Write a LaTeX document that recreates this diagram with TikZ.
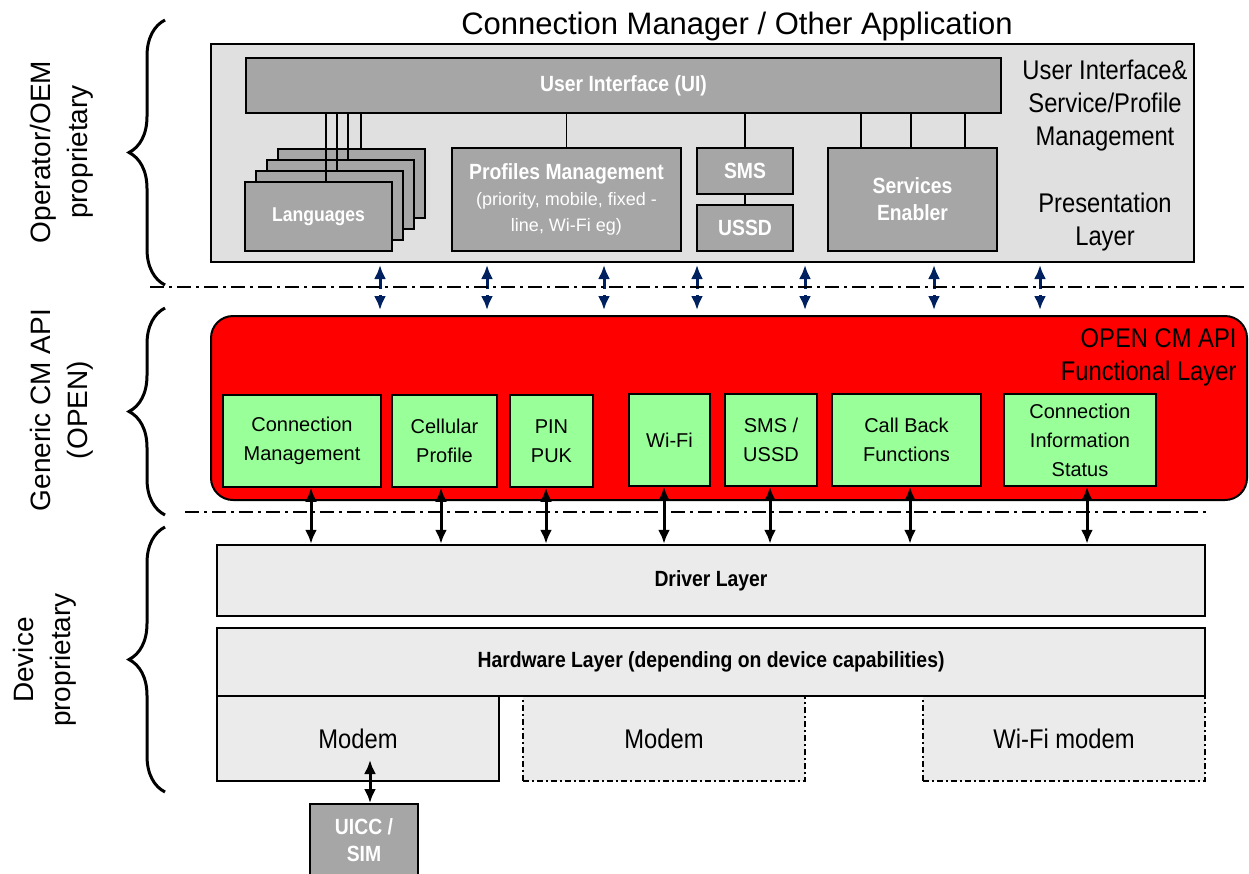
\documentclass[tikz,border=0pt]{standalone}
\usepackage{fontspec}
\setmainfont{Liberation Sans}
\newfontfamily\narrowfont[FakeStretch=0.88]{Liberation Sans}
\usetikzlibrary{arrows.meta}
\usetikzlibrary{positioning}
\usetikzlibrary{decorations.pathreplacing}
\definecolor{panelgray}{RGB}{224,224,224}
\definecolor{boxgray}{RGB}{166,166,166}
\definecolor{layergray}{RGB}{235,235,235}
\definecolor{apired}{RGB}{255,0,0}
\definecolor{funcgreen}{RGB}{153,255,153}
\definecolor{linknavy}{RGB}{0,32,96}
\newcommand\titlefont{\fontsize{31}{36}\selectfont}
\newcommand\boxfont{\narrowfont\bfseries\fontsize{22}{27}\selectfont}
\newcommand\langfont{\narrowfont\bfseries\fontsize{20}{24}\selectfont}
\newcommand\smallboxfont{\fontsize{18}{26}\selectfont}
\newcommand\notefont{\narrowfont\fontsize{27}{33}\selectfont}
\newcommand\funcfont{\fontsize{20}{29}\selectfont}
\newcommand\sidefont{\fontsize{28}{37}\selectfont}
\tikzset{
  panel/.style = {draw, line width=2pt, fill=panelgray, inner sep=0pt},
  greybox/.style = {draw, line width=1.3pt, fill=boxgray, text=white,
                    font=\boxfont, align=center, inner sep=0pt},
  funcbox/.style = {draw, line width=1.5pt, fill=funcgreen, font=\funcfont,
                    align=center, inner sep=0pt, minimum height=92},
  layerbox/.style = {draw, fill=layergray, inner sep=0pt, minimum width=988},
  modembox/.style = {fill=layergray, inner sep=0pt, font=\notefont,
                     minimum width=282, minimum height=85},
  wire/.style = {line width=1.5pt},
  bluelink/.style = {linknavy, line width=3pt,
                     {Latex[length=14pt,width=12pt]}-{Latex[length=14pt,width=12pt]}},
  blacklink/.style = {line width=3pt,
                      {Latex[length=14pt,width=12pt]}-{Latex[length=14pt,width=12pt]}},
  sepline/.style = {line width=2pt, dash pattern=on 14pt off 5pt on 3pt off 5pt},
  sidebrace/.style = {line width=3pt, decorate, decoration={brace, amplitude=36pt}},
}
\begin{document}
\begin{tikzpicture}[x=1pt,y=-1pt]
\useasboundingbox (0,0) rectangle (1249,873);

% application layer
\node[panel, minimum width=983, minimum height=218] (panel) at (702.5,153) {};
\node[font=\titlefont] (title) at (737,26) {Connection Manager / Other Application};
\node[greybox, minimum width=755, minimum height=55] (ui) at (623.5,85.5) {User Interface (UI)};
\foreach \i in {4,3,2}
  \node[greybox, minimum width=147, minimum height=69] (lang\i)
    at ({318.5+11*(\i-1)},{216.5-11*(\i-1)}) {};
\node[greybox, minimum width=147, minimum height=69, font=\langfont] (lang1) at (318.5,216.5) {\raisebox{-3pt}{Languages}};
\node[greybox, minimum width=229, minimum height=103, font=\smallboxfont] (prof) at (566.5,199.5)
  {{\boxfont Profiles Management}\\(priority, mobile, fixed -\\line, Wi-Fi eg)};
\node[greybox, minimum width=96, minimum height=46] (sms) at (745,171) {SMS};
\node[greybox, minimum width=96, minimum height=46] (ussd) at (745,228) {USSD};
\node[greybox, minimum width=169, minimum height=103] (serv) at (912.5,199.5) {Services\\Enabler};

\foreach \i/\x in {1/326,2/337,3/348,4/361} {
  \coordinate (tap) at (\x,0);
  \draw[wire] (ui.south -| tap) -- (lang\i.north -| tap);
}
\draw[wire] (ui.south -| prof.north) -- (prof.north);
\draw[wire] (ui.south -| sms.north) -- (sms.north);
\draw[wire] (sms.south) -- (sms.south |- ussd.north);
\foreach \x in {861,911,965} {
  \coordinate (tap) at (\x,0);
  \draw[wire] (ui.south -| tap) -- (serv.north -| tap);
}

\node[font=\notefont, align=center] (uinote) at (1105,106) {User Interface\&\\Service/Profile\\Management};
\node[font=\notefont, align=center] (presnote) at (1105,222) {Presentation\\Layer};

% open api layer
\node[draw, line width=2pt, fill=apired, rounded corners=22pt, inner sep=0pt,
      minimum width=1036, minimum height=184] (api) at (729,408) {};
\node[font=\notefont, align=right, anchor=east] (apinote) at (1240,357) {OPEN CM API\\Functional Layer};

\foreach \x in {380,487,604,697,805,934,1040} {
  \coordinate (tap) at (\x,0);
  \draw[bluelink, shorten <=2pt, shorten >=5pt] (panel.south -| tap) -- (api.north -| tap);
}
\fill[white] (300,289) rectangle (1100,295);
\draw[sepline] (150,287) -- (1245,287);

\node[funcbox, minimum width=158] (conn) at (302,441) {Connection\\Management};
\node[funcbox, minimum width=105] (cell) at (444.5,441) {Cellular\\Profile};
\node[funcbox, minimum width=83] (pin) at (551.5,441) {PIN\\PUK};
\node[funcbox, minimum width=81] (wifi) at (669.5,440) {Wi-Fi};
\node[funcbox, minimum width=92] (smsussd) at (771,440) {SMS /\\USSD};
\node[funcbox, minimum width=149] (callback) at (906.5,440) {Call Back\\Functions};
\node[funcbox, minimum width=152] (status) at (1080,440) {Connection\\Information\\Status};

% device layer
\node[layerbox, line width=2.5pt, minimum height=71, font=\boxfont] (driver) at (711,580.5) {Driver Layer};
\node[layerbox, line width=1.2pt, minimum height=68, font=\boxfont] (hw) at (711,662)
  {Hardware Layer (depending on device capabilities)};

\foreach \n/\x in {conn/311,cell/441,pin/546,wifi/664,smsussd/770,callback/910,status/1087} {
  \coordinate (tap) at (\x,0);
  \draw[blacklink] (\n.south -| tap) -- (driver.north -| tap);
}
\draw[sepline] (185,512) -- (1210,512);

\node[modembox, draw, line width=2pt] (modem) at (358,738.5) {Modem};
\node[modembox, draw, line width=1.2pt, dash pattern=on 6pt off 3pt on 2pt off 3pt] (modem2) at (664,738.5) {Modem};
\node[modembox, draw, line width=1.2pt, dash pattern=on 6pt off 3pt on 2pt off 3pt] (wimodem) at (1064,738.5) {Wi-Fi modem};
\draw[line width=1.2pt] (hw.south west) -- (hw.south east);
\node[greybox, line width=2pt, minimum width=108, minimum height=72] (uicc) at (364,840) {UICC /\\SIM};
\coordinate (simport) at (370,760);
\draw[blacklink] (simport) -- (uicc.north -| simport);

% ownership braces
\draw[sidebrace] (165,285) -- (165,20);
\draw[sidebrace] (165,515) -- (165,308);
\draw[sidebrace] (165,792) -- (165,527);
\node[font=\sidefont, align=center, rotate=90] (oem) at (62,152) {Operator/OEM\\proprietary};
\node[font=\sidefont, align=center, rotate=90] (open) at (62,410) {Generic CM API\\(OPEN)};
\node[font=\sidefont, align=center, rotate=90] (dev) at (45,660) {Device\\proprietary};
\end{tikzpicture}
\end{document}
